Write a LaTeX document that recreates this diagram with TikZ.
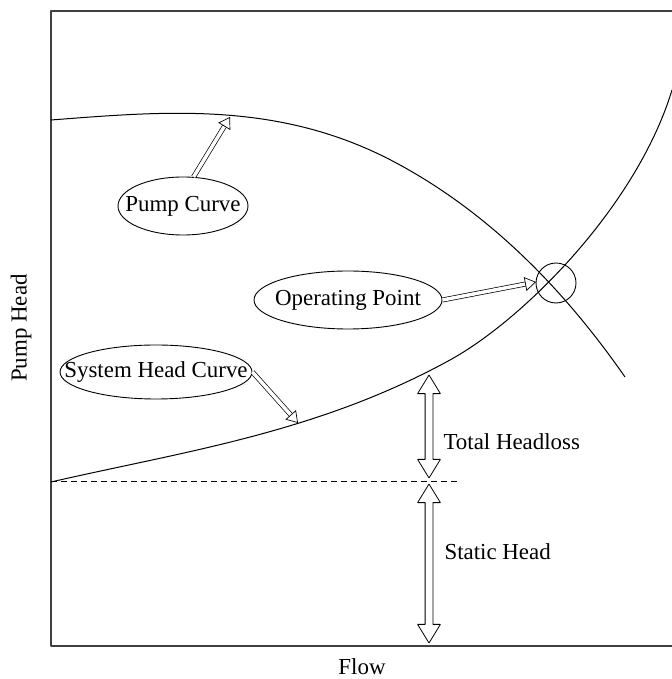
\documentclass[tikz,border=0pt]{standalone}
\usepackage{fontspec}
\setmainfont{Liberation Serif}
\usetikzlibrary{arrows.meta,shapes.geometric,shapes.arrows}
\tikzset{
  bubble/.style={draw,ellipse,inner sep=0pt,line width=0.9bp},
  hollow/.style={double,double distance=3.5bp,line width=0.7bp,-{Triangle[open,length=11bp,width=14bp]}},
  spanarrow/.style={draw,double arrow,rotate=90,inner sep=0pt,line width=0.8bp,text height=3.5bp,text depth=3.5bp,
    double arrow head extend=7.5bp,double arrow tip angle=63},
}
\begin{document}
\begin{tikzpicture}[line join=bevel,font=\fontsize{23}{27}\selectfont]
\useasboundingbox (0bp,0bp) rectangle (672bp,679bp);
%% frame and axis titles
\draw [line width=1.2bp,black!75] (672bp,668bp) -- (51bp,668bp) -- (51bp,33bp) -- (672bp,33bp);
\node (flow) at (362bp,12bp) {Flow};
\node (head) at (21bp,351bp) [rotate=90] {Pump Head};
%% curves
\draw [line width=1bp] (51bp,559bp) ..controls (168bp,568bp) and (283bp,578.4bp) .. (400bp,514bp)
  ..controls (475bp,473bp) and (552bp,407bp) .. (625bp,302bp);
\draw [line width=1bp] (51bp,197bp) ..controls (184bp,227.6bp) and (317bp,246bp) .. (450bp,319bp)
  ..controls (524bp,359.7bp) and (637bp,473.5bp) .. (672bp,589bp);
\draw [line width=0.9bp,dash pattern=on 6bp off 4bp] (51bp,198bp) -- (458bp,198bp);
%% labels
\node (pumpcurve) at (183bp,473bp) [bubble,minimum width=130bp,minimum height=58bp,label=center:{Pump Curve}] {};
\node (operating) at (348bp,379bp) [bubble,minimum width=188bp,minimum height=58bp,label=center:{Operating Point}] {};
\node (syshead) at (156bp,307bp) [bubble,minimum width=192bp,minimum height=54bp,label=center:{System Head Curve}] {};
\node (oppoint) at (556bp,396bp) [draw,circle,inner sep=0pt,minimum size=40bp,line width=0.9bp] {};
\node (headloss) at (440bp,237bp) [anchor=west] {Total Headloss};
\node (static) at (441bp,127bp) [anchor=west] {Static Head};
\coordinate (pumptip) at (230bp,562bp);
\coordinate (optip) at (536bp,397bp);
\coordinate (systip) at (298bp,256bp);
%% arrows
\draw [hollow] (pumpcurve.70) -- (pumptip);
\draw [hollow] (operating.east) -- (optip);
\draw [hollow] (syshead.east) -- (systip);
\node (lossarrow) at (429bp,252.5bp) [spanarrow,minimum height=103bp] {};
\node (statarrow) at (429bp,115.5bp) [spanarrow,minimum height=159bp] {};
%
\end{tikzpicture}
\end{document}
